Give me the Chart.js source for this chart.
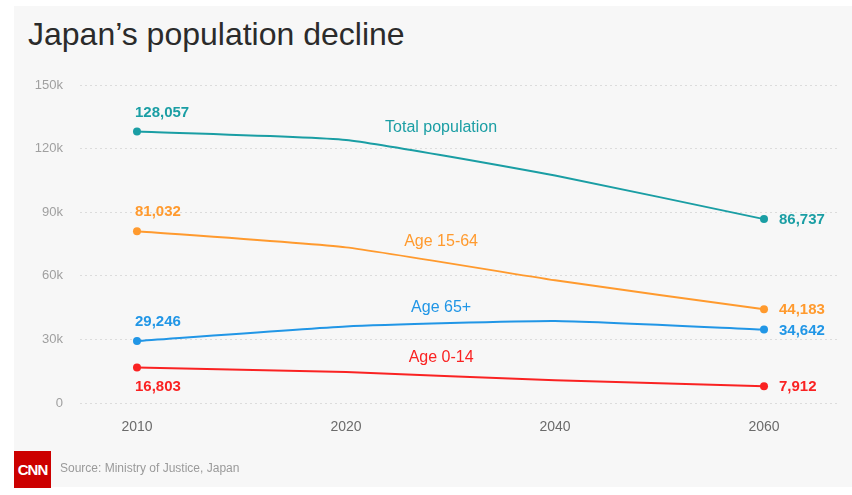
<!DOCTYPE html>
<html>
<head>
<meta charset="utf-8">
<script src="https://cdn.jsdelivr.net/npm/chart.js@4.4.0/dist/chart.umd.min.js"></script>
<style>
    html, body { margin: 0; padding: 0; background: #fff; }
    body { width: 852px; height: 495px; position: relative; overflow: hidden; font-family: "Liberation Sans", Arial, sans-serif; }
    .panel { position: absolute; left: 14px; top: 6px; width: 838px; height: 481px; background: #f7f7f7; }
    .title { position: absolute; left: 28px; top: 16px; font-size: 32px; color: #2b2b2b; }
    .chart-box { position: absolute; left: 0; top: 0; width: 852px; height: 495px; }
    .logo { position: absolute; left: 14px; top: 451px; width: 37px; height: 37px; background: #cc0000; color: #fff;
            font: bold 15px "Liberation Sans Narrow", "Liberation Sans", sans-serif; line-height: 37px; text-align: center; letter-spacing: -1px; }
    .source { position: absolute; left: 60px; top: 461px; font-size: 12px; color: #9a9a9a; }
</style>
</head>
<body>
<div class="panel"></div>
<div class="title">Japan’s population decline</div>
<div class="chart-box"><canvas id="popChart" width="852" height="495"></canvas></div>
<div class="logo">CNN</div>
<div class="source">Source: Ministry of Justice, Japan</div>

<script>
// ===== Data (thousands) =====
const years = ['2010', '2020', '2040', '2060'];
const totalPop = [128057, 124100, 107276, 86737];
const age1564 = [81032, 73408, 57866, 44183];
const age65plus = [29246, 36124, 38678, 34642];
const age014 = [16803, 14568, 10732, 7912];
const yTicks = [0, 30000, 60000, 90000, 120000, 150000];
const yTickLabels = ['0', '30k', '60k', '90k', '120k', '150k'];
const seriesNames = ['Total population', 'Age 15-64', 'Age 65+', 'Age 0-14'];

// ===== Styles =====
const colors = ['#1a9ea4', '#ff9a2e', '#2196e6', '#fa2222'];
// where the series name sits: [x index, y value]
const nameSpots = [[1.455, 129700], [1.455, 76000], [1.455, 44800], [1.455, 21200]];
// 2010 label goes above the point (-1) or below (+1)
const startSide = [-1, -1, -1, 1];

const allSeries = [totalPop, age1564, age65plus, age014];

function toPoints(values) {
    return values.map((v, i) => ({ x: i, y: v }));
}

const labelPlugin = {
    id: 'seriesLabels',
    afterDatasetsDraw(chart) {
        const ctx = chart.ctx;
        const xs = chart.scales.x;
        const ys = chart.scales.y;
        ctx.save();
        allSeries.forEach((vals, i) => {
            ctx.fillStyle = colors[i];
            // start value
            ctx.font = 'bold 15px "Liberation Sans", Arial, sans-serif';
            ctx.textAlign = 'left';
            ctx.textBaseline = 'middle';
            const x0 = xs.getPixelForValue(0);
            const y0 = ys.getPixelForValue(vals[0]);
            ctx.fillText(vals[0].toLocaleString('en-US'), x0 - 2, y0 + startSide[i] * 19);
            // end value
            const last = vals.length - 1;
            const x1 = xs.getPixelForValue(last);
            const y1 = ys.getPixelForValue(vals[last]);
            ctx.fillText(vals[last].toLocaleString('en-US'), x1 + 15, y1 + 1);
            // series name
            ctx.font = '16px "Liberation Sans", Arial, sans-serif';
            ctx.textAlign = 'center';
            ctx.fillText(seriesNames[i], xs.getPixelForValue(nameSpots[i][0]), ys.getPixelForValue(nameSpots[i][1]));
        });
        ctx.restore();
    }
};

const ctx = document.getElementById('popChart').getContext('2d');
new Chart(ctx, {
    type: 'line',
    data: {
        datasets: allSeries.map((vals, i) => ({
            label: seriesNames[i],
            data: toPoints(vals),
            borderColor: colors[i],
            backgroundColor: colors[i],
            borderWidth: 2,
            pointRadius: vals.map((_, j) => (j === 0 || j === vals.length - 1) ? 4 : 0),
            pointHoverRadius: 0,
            pointBorderWidth: 0,
            tension: 0.15,
            fill: false
        }))
    },
    options: {
        responsive: false,
        animation: false,
        layout: { padding: { top: 85, right: 12, left: 0, bottom: 0 } },
        plugins: {
            legend: { display: false },
            tooltip: { enabled: false }
        },
        scales: {
            x: {
                type: 'linear',
                min: -0.2727,
                max: 3.3636,
                afterBuildTicks: s => { s.ticks = years.map((_, i) => ({ value: i })); },
                afterFit: s => { s.height = 92; },
                grid: { display: false, drawTicks: false },
                border: { display: false },
                ticks: {
                    padding: 16,
                    color: '#6b6b6b',
                    font: { size: 14, family: '"Liberation Sans", Arial, sans-serif' },
                    callback: v => years[v]
                }
            },
            y: {
                min: 0,
                max: 150000,
                afterBuildTicks: s => { s.ticks = yTicks.map(v => ({ value: v })); },
                afterFit: s => { s.width = 80; },
                grid: { color: '#dcdcdc', drawTicks: false },
                border: { display: false, dash: [2, 3] },
                ticks: {
                    padding: 17,
                    color: '#a0a0a0',
                    font: { size: 13, family: '"Liberation Sans", Arial, sans-serif' },
                    callback: v => yTickLabels[yTicks.indexOf(v)]
                }
            }
        }
    },
    plugins: [labelPlugin]
});
</script>
</body>
</html>
